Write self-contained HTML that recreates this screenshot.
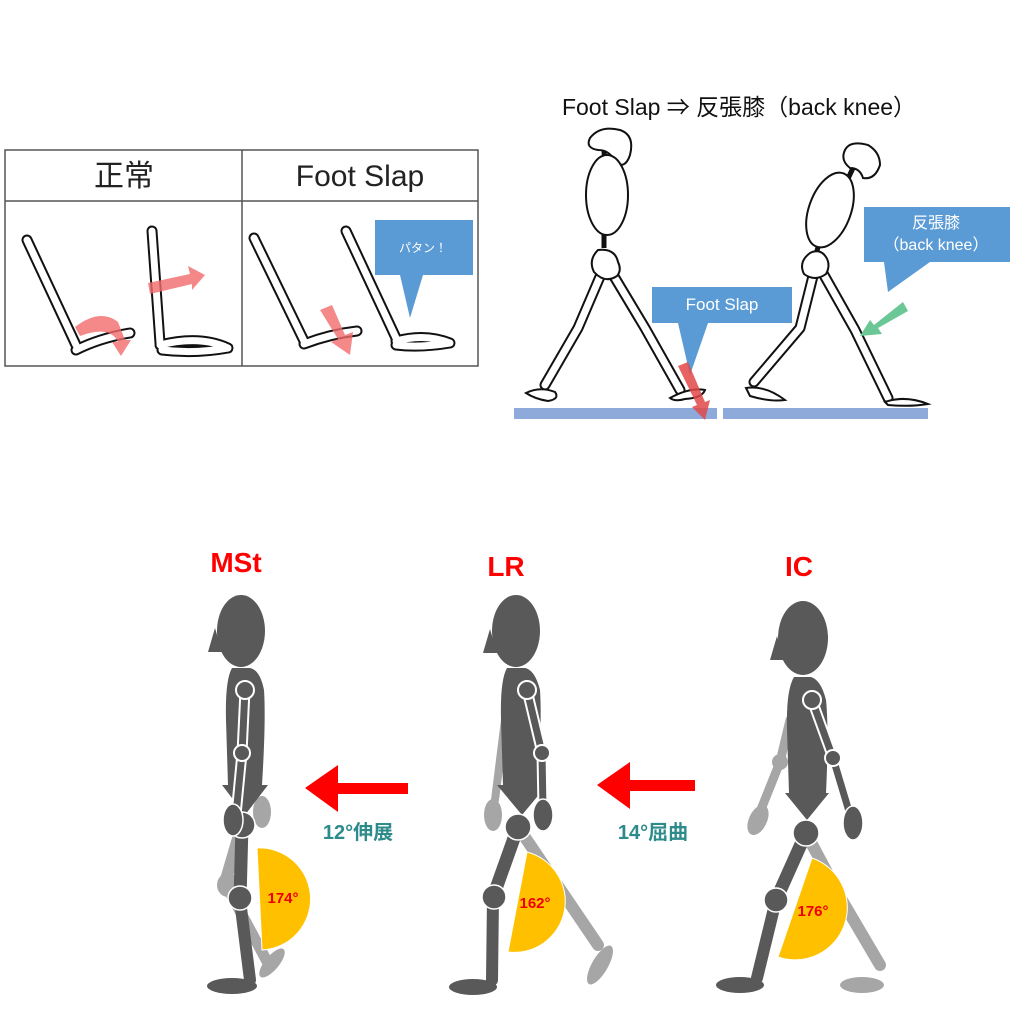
<!DOCTYPE html>
<html><head><meta charset="utf-8"><style>
html,body{margin:0;padding:0;background:#fff;}
svg{display:block;}
text{font-family:"Liberation Sans","Noto Sans CJK JP",sans-serif;}
</style></head><body>
<svg width="1024" height="1024" viewBox="0 0 1024 1024" xmlns="http://www.w3.org/2000/svg">
<!-- Top-left table -->
<rect x="5" y="150" width="473" height="216" fill="#fff" stroke="#555" stroke-width="1.5"/>
<line x1="5" y1="201" x2="478" y2="201" stroke="#555" stroke-width="1.5"/>
<line x1="242" y1="150" x2="242" y2="366" stroke="#555" stroke-width="1.5"/>
<text x="124" y="186" font-size="30" text-anchor="middle" fill="#222">正常</text>
<text x="360" y="186" font-size="30" text-anchor="middle" fill="#222">Foot Slap</text>
<g fill="none" stroke-linecap="round" stroke-linejoin="round">
 <g stroke="#111" stroke-width="11">
  <path d="M27,240 L76,345"/><path d="M76,350 Q100,338 130,333"/>
  <path d="M152,231 L160,343"/><path d="M160,345 Q200,335 228,348 Q195,354 162,350"/>
  <path d="M254,238 L304,341"/><path d="M304,344 Q330,334 357,331"/>
  <path d="M346,231 L396,338"/><path d="M396,341 Q425,333 450,343 Q420,348 396,345"/>
 </g>
 <g stroke="#fff" stroke-width="7">
  <path d="M27,240 L76,345"/><path d="M76,350 Q100,338 130,333"/>
  <path d="M152,231 L160,343"/><path d="M160,345 Q200,335 228,348 Q195,354 162,350"/>
  <path d="M254,238 L304,341"/><path d="M304,344 Q330,334 357,331"/>
  <path d="M346,231 L396,338"/><path d="M396,341 Q425,333 450,343 Q420,348 396,345"/>
 </g>
</g>
<g fill="#f26b6b" opacity="0.8">
 <path d="M75,327 Q100,308 118,322 L125,340 L131,340 L121,356 L112,342 L118,342 Q110,325 80,336Z"/>
 <path d="M148,283 L190,274 L188,266 L205,275 L192,290 L192,284 L150,294Z"/>
 <path d="M320,310 L332,305 L345,335 L353,332 L350,355 L331,342 L338,339Z"/>
</g>
<path d="M375,220 H473 V275 H423 L410,318 L400,275 H375Z" fill="#5b9bd5"/>
<text x="423" y="252" font-size="12" fill="#fff" text-anchor="middle">パタン！</text>

<!-- Top-right -->
<text x="739" y="115" font-size="23" text-anchor="middle" fill="#111">Foot Slap ⇒ 反張膝（back knee）</text>
<rect x="514" y="408" width="203" height="11" fill="#8eaadb"/>
<rect x="723" y="408" width="205" height="11" fill="#8eaadb"/>
<g fill="none" stroke-linecap="round" stroke-linejoin="round">
 <g stroke="#111" stroke-width="11">
  <polyline points="602,272 578,328 545,385"/>
  <polyline points="609,268 645,328 680,390"/>
  <polyline points="814,272 800,328 754,382"/>
  <polyline points="820,268 855,330 888,398"/>
 </g>
 <g stroke="#fff" stroke-width="7">
  <polyline points="602,272 578,328 545,385"/>
  <polyline points="609,268 645,328 680,390"/>
  <polyline points="814,272 800,328 754,382"/>
  <polyline points="820,268 855,330 888,398"/>
 </g>
</g>
<g fill="#fff" stroke="#111" stroke-width="2">
 <line x1="604" y1="150" x2="605" y2="170" stroke-width="5"/>
 <line x1="604" y1="232" x2="604" y2="248" stroke-width="5"/>
 <path d="M590,138 Q600,125 620,130 Q635,135 630,155 Q625,170 615,162 Q610,150 598,150 Q585,148 590,138Z"/>
 <ellipse cx="607" cy="195" rx="21" ry="40"/>
 <path d="M598,250 Q588,260 594,272 Q605,284 617,276 Q622,270 618,262 Q615,248 598,250Z"/>
 <path d="M526,393 Q540,386 555,392 Q560,399 548,401 Q535,399 526,393Z"/>
 <path d="M670,398 Q690,387 705,390 Q702,398 685,399 Q675,402 670,398Z"/>
 <line x1="853" y1="168" x2="845" y2="185" stroke-width="5"/>
 <line x1="820" y1="240" x2="815" y2="258" stroke-width="5"/>
 <path d="M845,150 Q850,140 868,145 Q880,152 880,165 Q875,180 863,178 Q860,168 850,168 Q840,160 845,150Z"/>
 <ellipse cx="830" cy="210" rx="21" ry="39" transform="rotate(20 830 210)"/>
 <path d="M810,253 Q798,262 804,274 Q815,282 826,274 Q831,265 826,257 Q820,248 810,253Z"/>
 <path d="M746,388 Q765,385 785,400 Q770,402 750,396Z"/>
 <path d="M885,402 Q905,395 928,404 Q910,407 888,405Z"/>
</g>
<path d="M652,287 H792 V323 H708 L690,375 L678,323 H652Z" fill="#5b9bd5"/>
<text x="722" y="310" font-size="17" fill="#fff" text-anchor="middle">Foot Slap</text>
<path d="M864,207 H1010 V262 H930 L888,292 L884,262 H864Z" fill="#5b9bd5"/>
<text x="936" y="228" font-size="16" fill="#fff" text-anchor="middle">反張膝</text>
<text x="936" y="250" font-size="16" fill="#fff" text-anchor="middle">（back knee）</text>
<path d="M678,366 L688,362 L705,402 L710,400 L705,420 L692,407 L697,405Z" fill="#e04848" opacity="0.85"/>
<path d="M903,302 L908,311 L878,328 L882,334 L860,336 L870,320 L874,325Z" fill="#6cc796"/>

<!-- Bottom labels -->
<g font-weight="bold" fill="#ff0000" font-size="28" text-anchor="middle">
 <text x="236" y="572">MSt</text><text x="506" y="576">LR</text><text x="799" y="576">IC</text>
</g>
<path d="M408,783 V794 H338 V812 L305,788 L338,765 V783Z" fill="#ff0000"/>
<path d="M695,780 V791 H630 V809 L597,785 L630,762 V780Z" fill="#ff0000"/>
<g font-weight="bold" fill="#2e8b8b" font-size="20" text-anchor="middle">
 <text x="358" y="839">12°伸展</text><text x="653" y="839">14°屈曲</text>
</g>

<!-- MSt figure -->
<g stroke-linecap="round">
 <line x1="242" y1="825" x2="225" y2="883" stroke="#a6a6a6" stroke-width="12"/>
 <line x1="225" y1="883" x2="270" y2="967" stroke="#a6a6a6" stroke-width="11"/>
 <ellipse cx="228" cy="885" rx="11" ry="12" fill="#a6a6a6"/>
 <ellipse cx="262" cy="812" rx="9" ry="16" fill="#a6a6a6"/>
 <ellipse cx="272" cy="963" rx="7" ry="18" transform="rotate(40 272 963)" fill="#a6a6a6"/>
 <path d="M215,628 L222,652 L208,652Z" fill="#595959"/>
 <ellipse cx="241" cy="631" rx="24" ry="36" fill="#595959"/>
 <path d="M232,668 Q225,680 226,720 L228,785 H262 Q266,720 264,690 Q260,670 250,668Z" fill="#595959"/>
 <path d="M222,785 H268 L245,815Z" fill="#595959"/>
 <path d="M257,848 A51,51 0 0 1 262,950 Z" fill="#ffc000" stroke="#fff"/>
 <text x="283" y="903" font-size="15" font-weight="bold" fill="#e00" text-anchor="middle">174°</text>
 <line x1="242" y1="825" x2="240" y2="900" stroke="#595959" stroke-width="13"/>
 <line x1="240" y1="900" x2="250" y2="980" stroke="#595959" stroke-width="12"/>
 <ellipse cx="232" cy="986" rx="25" ry="8" fill="#595959"/>
 <circle cx="242" cy="825" r="13" fill="#595959" stroke="#fff" stroke-width="1.5"/>
 <circle cx="240" cy="898" r="12" fill="#595959" stroke="#fff" stroke-width="1.5"/>
 <polyline points="245,690 242,753 236,815" fill="none" stroke="#fff" stroke-width="11"/>
 <polyline points="245,690 242,753 236,815" fill="none" stroke="#595959" stroke-width="7"/>
 <circle cx="245" cy="690" r="9" fill="#595959" stroke="#fff" stroke-width="2"/>
 <circle cx="242" cy="753" r="8" fill="#595959" stroke="#fff" stroke-width="2"/>
 <ellipse cx="233" cy="820" rx="10" ry="16" fill="#595959" stroke="#fff" stroke-width="1.5"/>
</g>

<!-- LR figure -->
<g stroke-linecap="round">
 <line x1="518" y1="827" x2="598" y2="945" stroke="#a6a6a6" stroke-width="12"/>
 <ellipse cx="600" cy="965" rx="8" ry="22" transform="rotate(30 600 965)" fill="#a6a6a6"/>
 <line x1="505" y1="720" x2="495" y2="800" stroke="#a6a6a6" stroke-width="8"/>
 <ellipse cx="493" cy="815" rx="9" ry="16" fill="#a6a6a6"/>
 <path d="M490,629 L497,653 L483,653Z" fill="#595959"/>
 <ellipse cx="516" cy="631" rx="24" ry="36" fill="#595959"/>
 <path d="M507,668 Q500,680 501,720 L503,785 H538 Q542,720 540,690 Q535,670 525,668Z" fill="#595959"/>
 <path d="M497,785 H547 L522,815Z" fill="#595959"/>
 <path d="M527,852 A51,51 0 0 1 508,952 Z" fill="#ffc000" stroke="#fff"/>
 <text x="535" y="908" font-size="15" font-weight="bold" fill="#e00" text-anchor="middle">162°</text>
 <line x1="518" y1="827" x2="493" y2="897" stroke="#595959" stroke-width="13"/>
 <line x1="493" y1="897" x2="492" y2="980" stroke="#595959" stroke-width="12"/>
 <ellipse cx="473" cy="987" rx="24" ry="8" fill="#595959"/>
 <circle cx="518" cy="827" r="13" fill="#595959" stroke="#fff" stroke-width="1.5"/>
 <circle cx="494" cy="897" r="12" fill="#595959" stroke="#fff" stroke-width="1.5"/>
 <polyline points="527,690 542,753 543,810" fill="none" stroke="#fff" stroke-width="11"/>
 <polyline points="527,690 542,753 543,810" fill="none" stroke="#595959" stroke-width="7"/>
 <circle cx="527" cy="690" r="9" fill="#595959" stroke="#fff" stroke-width="2"/>
 <circle cx="542" cy="753" r="8" fill="#595959" stroke="#fff" stroke-width="2"/>
 <ellipse cx="543" cy="815" rx="10" ry="16" fill="#595959" stroke="#fff" stroke-width="1.5"/>
</g>

<!-- IC figure -->
<g stroke-linecap="round">
 <polyline points="806,833 840,897 880,965" fill="none" stroke="#a6a6a6" stroke-width="12"/>
 <ellipse cx="862" cy="985" rx="22" ry="8" fill="#a6a6a6"/>
 <polyline points="790,720 780,762 760,812" fill="none" stroke="#a6a6a6" stroke-width="9"/>
 <circle cx="780" cy="762" r="8" fill="#a6a6a6"/>
 <ellipse cx="758" cy="820" rx="9" ry="16" transform="rotate(25 758 820)" fill="#a6a6a6"/>
 <path d="M777,636 L784,660 L770,660Z" fill="#595959"/>
 <ellipse cx="803" cy="638" rx="25" ry="37" fill="#595959"/>
 <path d="M794,677 Q786,690 787,730 L789,793 H826 Q829,730 826,700 Q821,680 811,677Z" fill="#595959"/>
 <path d="M785,793 H829 L807,820Z" fill="#595959"/>
 <path d="M812,858 A51,51 0 0 1 778,957 Z" fill="#ffc000" stroke="#fff"/>
 <text x="813" y="916" font-size="15" font-weight="bold" fill="#e00" text-anchor="middle">176°</text>
 <line x1="806" y1="833" x2="776" y2="900" stroke="#595959" stroke-width="13"/>
 <line x1="776" y1="900" x2="757" y2="978" stroke="#595959" stroke-width="12"/>
 <ellipse cx="740" cy="985" rx="24" ry="8" fill="#595959"/>
 <circle cx="806" cy="833" r="13" fill="#595959" stroke="#fff" stroke-width="1.5"/>
 <circle cx="776" cy="900" r="12" fill="#595959" stroke="#fff" stroke-width="1.5"/>
 <polyline points="812,700 833,758 851,818" fill="none" stroke="#fff" stroke-width="11"/>
 <polyline points="812,700 833,758 851,818" fill="none" stroke="#595959" stroke-width="7"/>
 <circle cx="812" cy="700" r="9" fill="#595959" stroke="#fff" stroke-width="2"/>
 <circle cx="833" cy="758" r="8" fill="#595959" stroke="#fff" stroke-width="2"/>
 <ellipse cx="853" cy="823" rx="10" ry="17" fill="#595959" stroke="#fff" stroke-width="1.5"/>
</g>
</svg>
</body></html>
